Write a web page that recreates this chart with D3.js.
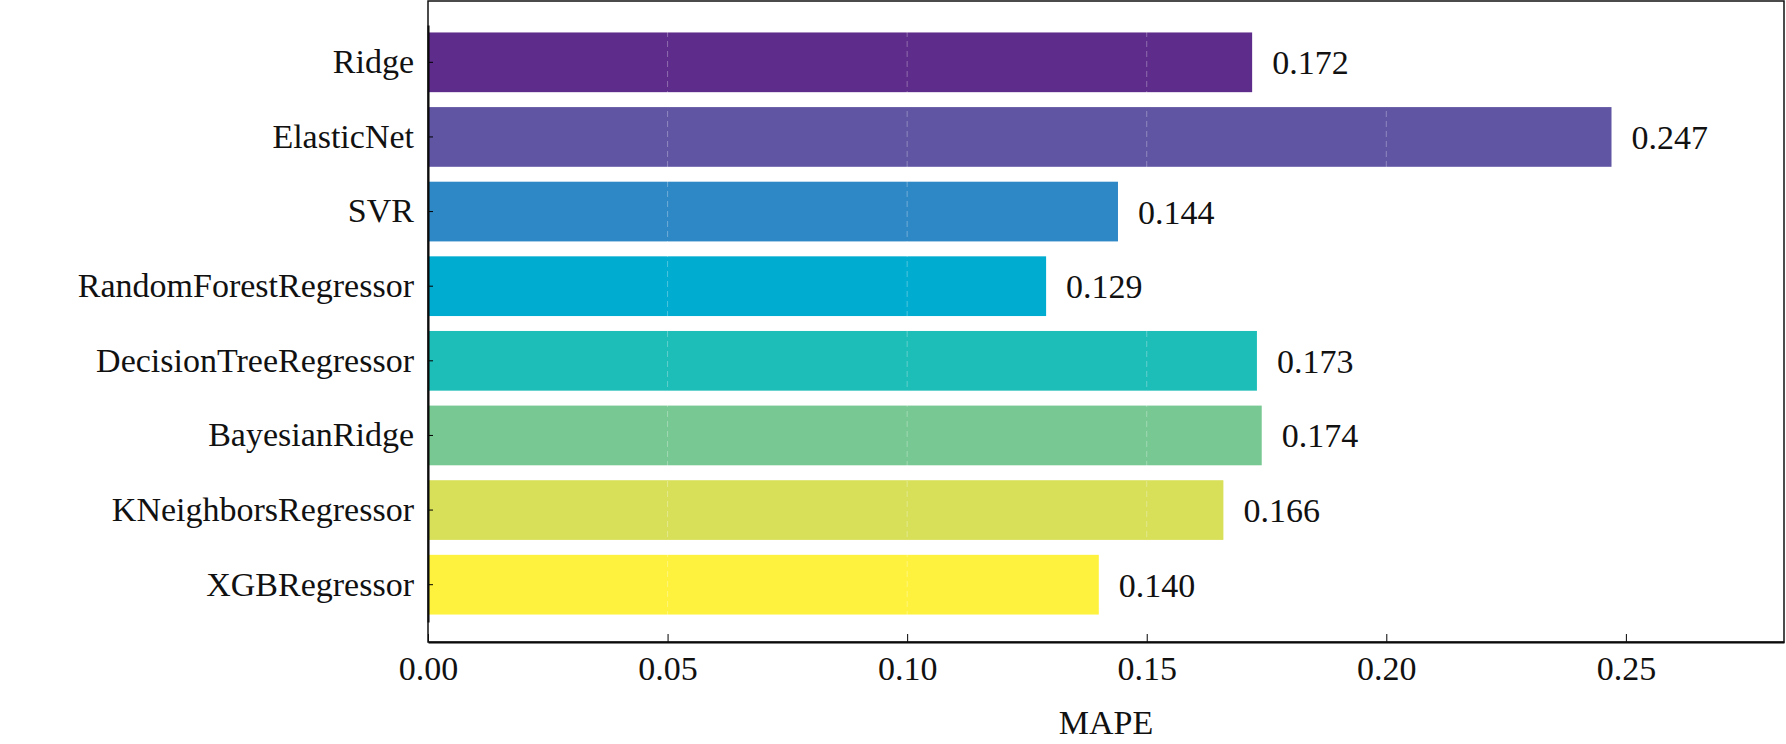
<!DOCTYPE html>
<html>
<head>
<meta charset="utf-8">
<script src="https://cdn.jsdelivr.net/npm/d3@7"></script>
<style>
  body { margin: 0; background: #fff; }
  svg text { font-family: 'Liberation Serif', 'Times New Roman', Times, serif !important; fill: #111; }
</style>
</head>
<body>
<div id="chart"></div>
<script>
// Data
const models = ["Ridge", "ElasticNet", "SVR", "RandomForestRegressor", "DecisionTreeRegressor",
                "BayesianRidge", "KNeighborsRegressor", "XGBRegressor"];
const mape = [0.172, 0.247, 0.144, 0.129, 0.173, 0.174, 0.166, 0.140];
const colors = ["#5e2c8a", "#5f55a3", "#2f88c6", "#00acd0", "#1dbdb8", "#78c893", "#d8e05a", "#fff23e"];
const xTicks = [0, 0.05, 0.10, 0.15, 0.20, 0.25];

const width = 1786, height = 744;
const margin = { top: 1, right: 2, bottom: 102, left: 428 };
const serif = "'Liberation Serif', 'Times New Roman', serif";

const svg = d3.select("#chart").append("svg")
    .attr("width", width)
    .attr("height", height)
    .attr("font-family", serif);

const x = d3.scaleLinear()
    .domain([0, 0.283])
    .range([margin.left, width - margin.right]);

const y = d3.scaleBand()
    .domain(models)
    .range([margin.top + 24, height - margin.bottom - 20])
    .paddingInner(0.2)
    .paddingOuter(0.1);

// Bars
svg.selectAll("rect.bar")
    .data(models)
    .enter()
    .append("rect")
    .attr("class", "bar")
    .attr("x", x(0))
    .attr("y", d => y(d))
    .attr("width", (d, i) => x(mape[i]) - x(0))
    .attr("height", y.bandwidth())
    .attr("fill", (d, i) => colors[i]);

// faint dashed grid on top of bars
svg.append("g")
    .selectAll("line")
    .data(xTicks.slice(1))
    .enter()
    .append("line")
    .attr("x1", d => x(d)).attr("x2", d => x(d))
    .attr("y1", margin.top).attr("y2", height - margin.bottom)
    .attr("stroke", "#ffffff")
    .attr("stroke-opacity", 0.3)
    .attr("stroke-dasharray", "6,4");

// Value labels
svg.selectAll("text.val")
    .data(models)
    .enter()
    .append("text")
    .attr("class", "val")
    .attr("x", (d, i) => x(mape[i]) + 20)
    .attr("y", d => y(d) + y.bandwidth() / 2 + 12)
    .attr("font-family", serif)
    .style("font-size", "34px")
    .text((d, i) => mape[i].toFixed(3));

// Axes
const xAxis = svg.append("g")
    .attr("transform", `translate(0,${height - margin.bottom})`)
    .call(d3.axisBottom(x).tickValues(xTicks).tickFormat(d3.format(".2f"))
        .tickSizeInner(-8).tickSizeOuter(0).tickPadding(14));
xAxis.attr("font-family", serif);
xAxis.selectAll("text").style("font-size", "34px");
xAxis.select(".domain").attr("stroke-width", 2);

const yAxis = svg.append("g")
    .attr("transform", `translate(${margin.left},0)`)
    .call(d3.axisLeft(y).tickSizeInner(-5).tickSizeOuter(0).tickPadding(14));
yAxis.attr("font-family", serif);
yAxis.selectAll("text").style("font-size", "34px");
yAxis.select(".domain").attr("stroke-width", 2);

// frame
svg.append("rect")
    .attr("x", margin.left)
    .attr("y", margin.top)
    .attr("width", width - margin.right - margin.left)
    .attr("height", height - margin.bottom - margin.top)
    .attr("fill", "none")
    .attr("stroke", "#111")
    .attr("stroke-width", 1.5);

// Axis title
svg.append("text")
    .attr("x", (x(0) + x(0.283)) / 2)
    .attr("y", 734)
    .attr("text-anchor", "middle")
    .attr("font-family", serif)
    .style("font-size", "34px")
    .text("MAPE");
</script>
</body>
</html>
